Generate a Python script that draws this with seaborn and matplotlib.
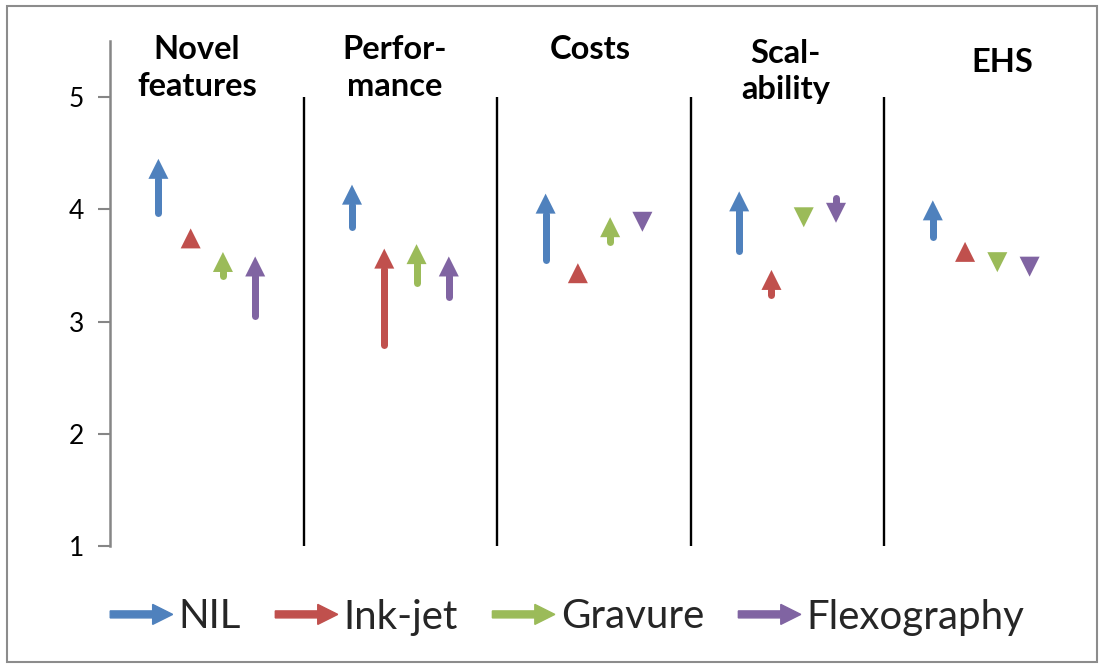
import matplotlib
matplotlib.use("Agg")
import numpy as np
import pandas as pd
import matplotlib.pyplot as plt
import seaborn as sns
from matplotlib.patches import Rectangle, FancyArrow, Patch
from matplotlib.legend_handler import HandlerPatch

# Assessment criteria (column headers) and printing techniques
criteria = ["Novel\nfeatures", "Perfor-\nmance", "Costs", "Scal-\nability", "EHS"]
techniques = ["NIL", "Ink-jet", "Gravure", "Flexography"]

# Score at the tail (start) and the tip (end) of each arrow, per criterion
nil_start = [3.97, 3.84, 3.55, 3.63, 3.75]
nil_end = [4.45, 4.22, 4.14, 4.16, 4.08]
inkjet_start = [3.71, 2.79, 3.40, 3.24, 3.59]
inkjet_end = [3.83, 3.65, 3.52, 3.46, 3.71]
gravure_start = [3.41, 3.34, 3.71, 3.96, 3.56]
gravure_end = [3.62, 3.69, 3.93, 3.84, 3.44]
flexo_start = [3.05, 3.22, 3.92, 4.10, 3.52]
flexo_end = [3.58, 3.58, 3.80, 3.88, 3.40]

y_ticks = [1, 2, 3, 4, 5]
colors = ["#4F81BD", "#C0504D", "#9BBB59", "#8064A2"]

# header text placement (data coordinates)
header_x = [0.45, 1.47, 2.48, 3.49, 4.61]
header_y = [5.26, 5.26, 5.42, 5.23, 5.31]

starts = [nil_start, inkjet_start, gravure_start, flexo_start]
ends = [nil_end, inkjet_end, gravure_end, flexo_end]

rows = []
for k, tech in enumerate(techniques):
    for i, crit in enumerate(criteria):
        rows.append({
            "criterion": crit,
            "technique": tech,
            "x": i + 0.5 + (k - 1.5) / 6.0,
            "start": starts[k][i],
            "end": ends[k][i],
        })
df = pd.DataFrame(rows)
df["direction"] = np.where(df["end"] >= df["start"], "up", "down")

sns.set_theme(style="white")
plt.rcParams["font.family"] = ["Lato", "DejaVu Sans"]

W, H, DPI = 1104, 668, 100
fig = plt.figure(figsize=(W / DPI, H / DPI), dpi=DPI)
ax = fig.add_axes([110 / W, 1 - 546 / H, (1078 - 110) / W, (546 - 41) / H])
ax.set_xlim(0, 5)
ax.set_ylim(1, 5.5)

# arrow geometry in pixels
head_px = 20.0
shaft_px = 7.0
pt_per_px = 72.0 / DPI
px_per_unit = ax.transData.transform((0, 2))[1] - ax.transData.transform((0, 1))[1]
head_len = head_px / px_per_unit

sign = np.where(df["direction"] == "up", 1.0, -1.0)
df["head_y"] = df["end"] - sign * head_len / 2
df["base_y"] = df["end"] - sign * head_len

# criterion separators
ax.vlines([1, 2, 3, 4], 1, 5, color="black", lw=1.7, zorder=1)

# arrow shafts (only where the arrow is longer than its head)
color_map = dict(zip(techniques, colors))
for _, r in df.iterrows():
    s = 1.0 if r["direction"] == "up" else -1.0
    if s * (r["base_y"] - r["start"]) > 0:
        ax.plot([r["x"], r["x"]], [r["start"], r["base_y"]],
                color=color_map[r["technique"]], lw=shaft_px * pt_per_px,
                solid_capstyle="round", zorder=2)

# arrow heads
sns.scatterplot(data=df, x="x", y="head_y", hue="technique", hue_order=techniques,
                palette=colors, style="direction", markers={"up": "^", "down": "v"},
                s=(head_px * pt_per_px) ** 2, linewidth=0, legend=False, ax=ax, zorder=3)

# headers
for hx, hy, crit in zip(header_x, header_y, criteria):
    ax.text(hx, hy, crit, ha="center", va="center", fontsize=23.5,
            fontweight="bold", linespacing=1.3, color="black")

# axes styling
for side in ["top", "right", "bottom"]:
    ax.spines[side].set_visible(False)
ax.spines["left"].set_color("#868686")
ax.spines["left"].set_linewidth(1.8)
ax.set_xticks([])
ax.set_yticks(y_ticks)
ax.set_yticklabels([str(t) for t in y_ticks])
ax.tick_params(axis="y", direction="out", length=8.6, width=1.5, color="#868686",
               pad=10, labelsize=19, labelcolor="black", left=True)
ax.set_xlabel("")
ax.set_ylabel("")


def make_arrow(legend, orig_handle, xdescent, ydescent, width, height, fontsize):
    return FancyArrow(-xdescent, -ydescent + height / 2, width, 0,
                      width=shaft_px * pt_per_px, head_width=head_px * pt_per_px,
                      head_length=head_px * pt_per_px, length_includes_head=True)


handles = [Patch(color=c, label=t) for t, c in zip(techniques, colors)]
fig.legend(handles=handles, labels=techniques, loc="center",
           bbox_to_anchor=(0.514, 1 - 617 / H), ncol=4, frameon=False,
           fontsize=29, handlelength=1.55, handletextpad=0.15, columnspacing=0.85,
           handler_map={Patch: HandlerPatch(patch_func=make_arrow)})

# chart border
fig.patches.append(Rectangle((7 / W, 1 - 662 / H), (1097 - 7) / W, (662 - 6) / H,
                             transform=fig.transFigure, fill=False,
                             edgecolor="#8c8c8c", lw=1.5))

fig.savefig("out.png", dpi=DPI)
